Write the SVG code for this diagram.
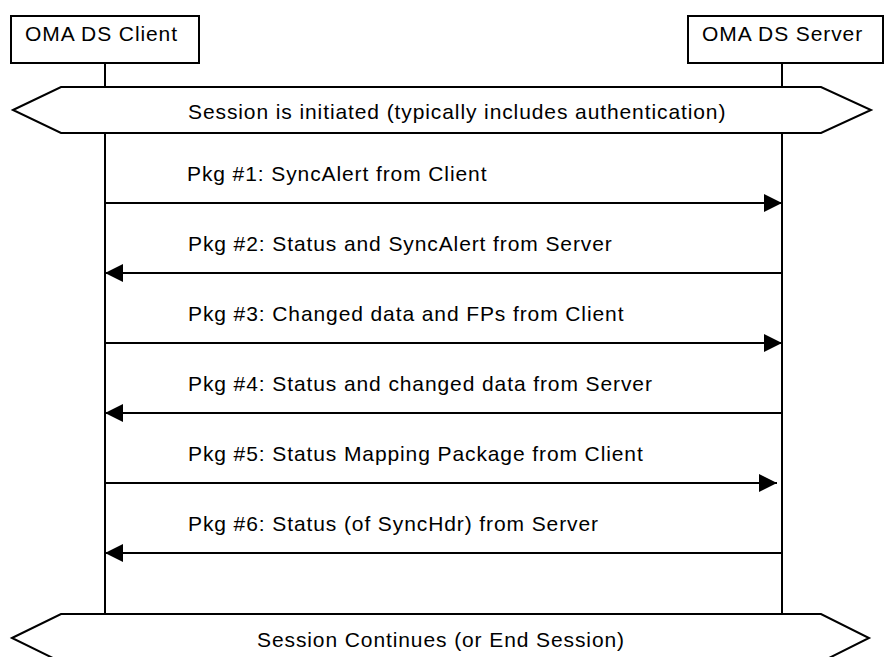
<svg xmlns="http://www.w3.org/2000/svg" width="884" height="657" viewBox="0 0 884 657">
<style>
.box{fill:#fff;stroke:#000;stroke-width:2}
.ll{stroke:#000;stroke-width:2;fill:none}
.msg{stroke:#000;stroke-width:2;fill:none}
.t{font-family:"Liberation Sans",Arial,sans-serif;font-size:21px;fill:#000;letter-spacing:0.9px}
</style>
<defs>
<marker id="ah" markerUnits="userSpaceOnUse" markerWidth="18" markerHeight="18" viewBox="0 0 17 17" refX="17" refY="8.5" orient="auto">
<path d="M0,0 L17,8.5 L0,17 Z" fill="#000"/>
</marker>
</defs>
<g id="lifelines">
<line class="ll" x1="105" y1="63" x2="105" y2="614"/>
<line class="ll" x1="782" y1="63" x2="782" y2="614"/>
</g>
<g id="client">
<rect class="box" x="11" y="16" width="188" height="47"/>
<text class="t" x="25" y="41">OMA DS Client</text>
</g>
<g id="server">
<rect class="box" x="688" y="16" width="195" height="47"/>
<text class="t" x="702" y="41">OMA DS Server</text>
</g>
<g id="session-start">
<polygon class="box" points="13,110 61,87 821,87 871,110 821,133 61,133"/>
<text class="t" x="188" y="119">Session is initiated (typically includes authentication)</text>
</g>
<g id="session-end">
<polygon class="box" points="12,638 61,614 821,614 869,638 821,662 61,662"/>
<text class="t" x="257" y="647">Session Continues (or End Session)</text>
</g>
<g id="connectors">
<line class="msg" x1="105" y1="203" x2="782" y2="203" marker-end="url(#ah)"/>
<line class="msg" x1="782" y1="273" x2="105" y2="273" marker-end="url(#ah)"/>
<line class="msg" x1="105" y1="343" x2="782" y2="343" marker-end="url(#ah)"/>
<line class="msg" x1="782" y1="413" x2="105" y2="413" marker-end="url(#ah)"/>
<line class="msg" x1="105" y1="483" x2="777" y2="483" marker-end="url(#ah)"/>
<line class="msg" x1="782" y1="553" x2="105" y2="553" marker-end="url(#ah)"/>
</g>
<g id="labels">
<text class="t" x="187" y="181">Pkg #1: SyncAlert from Client</text>
<text class="t" x="188" y="251">Pkg #2: Status and SyncAlert from Server</text>
<text class="t" x="188" y="321">Pkg #3: Changed data and FPs from Client</text>
<text class="t" x="188" y="391">Pkg #4: Status and changed data from Server</text>
<text class="t" x="188" y="461">Pkg #5: Status Mapping Package from Client</text>
<text class="t" x="188" y="531">Pkg #6: Status (of SyncHdr) from Server</text>
</g>
</svg>
